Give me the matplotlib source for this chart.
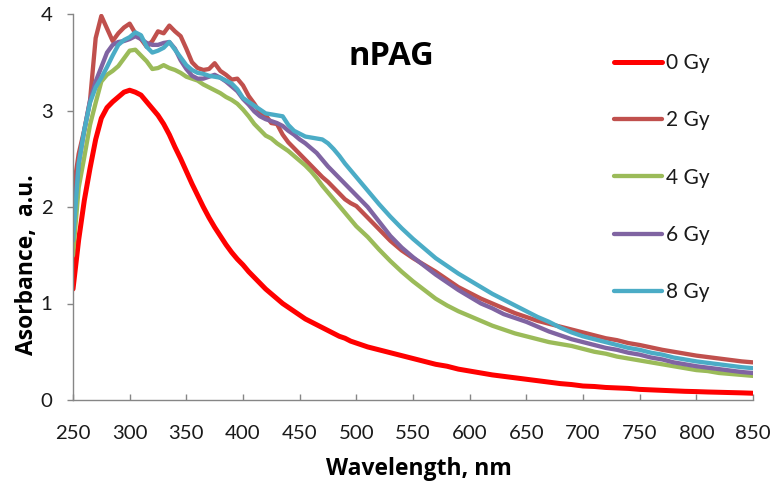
import numpy as np
import matplotlib
matplotlib.use("Agg")
import matplotlib.pyplot as plt

plt.rcParams['font.family'] = ['Lato', 'DejaVu Sans']

# wavelength grid (nm)
wl = np.concatenate([np.arange(250, 501, 5), np.arange(510, 851, 10)])

gy0 = [1.15, 1.66, 2.07, 2.40, 2.70, 2.92, 3.03, 3.09, 3.14, 3.19, 3.21, 3.19, 3.16, 3.09, 3.02, 2.95, 2.86,
       2.75, 2.62, 2.50, 2.37, 2.24, 2.12, 2.00, 1.89, 1.79, 1.70, 1.61, 1.53, 1.46, 1.40, 1.33, 1.27, 1.21,
       1.15, 1.10, 1.05, 1.00, 0.96, 0.92, 0.88, 0.84, 0.81, 0.78, 0.75, 0.72, 0.69, 0.66, 0.64, 0.61, 0.59,
       0.55, 0.52, 0.49, 0.46, 0.43, 0.40, 0.37, 0.35, 0.32, 0.30, 0.28, 0.26, 0.245, 0.23, 0.215, 0.20,
       0.185, 0.17, 0.16, 0.145, 0.14, 0.13, 0.125, 0.12, 0.11, 0.105, 0.10, 0.095, 0.09, 0.087, 0.083,
       0.08, 0.077, 0.074, 0.07]

gy2 = [2.15, 2.55, 2.80, 3.10, 3.75, 3.98, 3.85, 3.72, 3.80, 3.86, 3.90, 3.80, 3.74, 3.66, 3.72, 3.82, 3.80,
       3.88, 3.82, 3.77, 3.64, 3.50, 3.44, 3.42, 3.43, 3.49, 3.41, 3.37, 3.32, 3.33, 3.26, 3.15, 3.07, 2.98,
       2.95, 2.87, 2.86, 2.75, 2.67, 2.61, 2.55, 2.49, 2.43, 2.37, 2.31, 2.26, 2.20, 2.14, 2.08, 2.04, 2.01,
       1.89, 1.77, 1.65, 1.55, 1.47, 1.40, 1.33, 1.25, 1.17, 1.11, 1.05, 1.00, 0.95, 0.90, 0.86, 0.82,
       0.79, 0.76, 0.73, 0.70, 0.67, 0.64, 0.62, 0.59, 0.57, 0.545, 0.52, 0.50, 0.48, 0.46, 0.445,
       0.43, 0.415, 0.40, 0.39]

gy4 = [1.50, 2.20, 2.52, 2.85, 3.08, 3.30, 3.37, 3.41, 3.46, 3.54, 3.62, 3.63, 3.57, 3.51, 3.43, 3.44, 3.47,
       3.44, 3.42, 3.39, 3.35, 3.33, 3.31, 3.27, 3.24, 3.21, 3.18, 3.14, 3.11, 3.07, 3.01, 2.94, 2.86, 2.80,
       2.74, 2.71, 2.66, 2.62, 2.58, 2.53, 2.48, 2.43, 2.37, 2.30, 2.22, 2.15, 2.08, 2.01, 1.94, 1.87, 1.80,
       1.69, 1.56, 1.44, 1.33, 1.23, 1.14, 1.05, 0.98, 0.92, 0.87, 0.82, 0.77, 0.73, 0.69, 0.66, 0.63,
       0.60, 0.58, 0.56, 0.53, 0.50, 0.48, 0.45, 0.43, 0.41, 0.39, 0.37, 0.35, 0.33, 0.31, 0.30,
       0.28, 0.27, 0.26, 0.25]

gy6 = [1.80, 2.45, 2.80, 3.10, 3.30, 3.45, 3.60, 3.68, 3.71, 3.72, 3.74, 3.77, 3.74, 3.70, 3.68, 3.68, 3.70,
       3.71, 3.64, 3.52, 3.43, 3.36, 3.33, 3.33, 3.35, 3.37, 3.34, 3.30, 3.25, 3.20, 3.12, 3.06, 2.99, 2.94,
       2.91, 2.89, 2.87, 2.84, 2.79, 2.75, 2.70, 2.66, 2.61, 2.56, 2.49, 2.42, 2.36, 2.30, 2.24, 2.18, 2.12,
       2.00, 1.85, 1.70, 1.58, 1.48, 1.39, 1.30, 1.22, 1.14, 1.07, 1.00, 0.95, 0.89, 0.85, 0.81, 0.76,
       0.71, 0.67, 0.63, 0.60, 0.57, 0.54, 0.52, 0.49, 0.47, 0.44, 0.42, 0.39, 0.37, 0.35, 0.335,
       0.32, 0.305, 0.29, 0.28]

gy8 = [1.65, 2.45, 2.80, 3.08, 3.24, 3.34, 3.45, 3.57, 3.68, 3.73, 3.76, 3.81, 3.78, 3.66, 3.60, 3.62, 3.65,
       3.71, 3.63, 3.55, 3.47, 3.42, 3.39, 3.38, 3.36, 3.35, 3.34, 3.31, 3.28, 3.22, 3.13, 3.09, 3.05, 3.01,
       2.97, 2.96, 2.95, 2.94, 2.85, 2.79, 2.76, 2.73, 2.72, 2.71, 2.70, 2.66, 2.60, 2.53, 2.45, 2.38, 2.31,
       2.17, 2.03, 1.90, 1.78, 1.67, 1.57, 1.47, 1.39, 1.31, 1.24, 1.17, 1.10, 1.04, 0.98, 0.92, 0.86,
       0.81, 0.75, 0.70, 0.66, 0.63, 0.60, 0.57, 0.54, 0.52, 0.49, 0.47, 0.44, 0.42, 0.40, 0.385,
       0.37, 0.355, 0.34, 0.33]

labels = ['0 Gy', '2 Gy', '4 Gy', '6 Gy', '8 Gy']
series = [gy0, gy2, gy4, gy6, gy8]
colors = ['#FF0000', '#C0504D', '#9BBB59', '#8064A2', '#4BACC6']
widths = [3.6, 3.1, 3.1, 3.1, 3.1]

xticks = [250, 300, 350, 400, 450, 500, 550, 600, 650, 700, 750, 800, 850]
yticks = [0, 1, 2, 3, 4]

W, H = 773, 491
fig = plt.figure(figsize=(W / 100, H / 100), dpi=100)
ax = fig.add_axes([73 / W, 1 - 400 / H, (753 - 73) / W, (400 - 14) / H])

for y, c, lw, lab in zip(series, colors, widths, labels):
    ax.plot(wl, y, color=c, lw=lw, label=lab, solid_capstyle='round', solid_joinstyle='round')

ax.set_xlim(250, 850)
ax.set_ylim(0, 4)
ax.set_xticks(xticks)
ax.set_yticks(yticks)
ax.set_xticklabels([str(t) for t in xticks])
ax.set_yticklabels([str(t) for t in yticks])

gray = '#868686'
for s in ['top', 'right']:
    ax.spines[s].set_visible(False)
for s in ['left', 'bottom']:
    ax.spines[s].set_color(gray)
    ax.spines[s].set_linewidth(1.0)

ax.tick_params(axis='x', direction='in', length=4.3, width=1, color=gray, pad=18,
               labelsize=14.7, labelcolor='#1a1a1a')
ax.tick_params(axis='y', direction='out', length=4.3, width=1, color=gray, pad=10.5,
               labelsize=14.7, labelcolor='#1a1a1a')

bold = ['Open Sans', 'DejaVu Sans']
ax.set_xlabel('Wavelength, nm', fontsize=16.5, fontweight='bold', va='center', family=bold)
ax.xaxis.set_label_coords((419 - 73) / 680, -(469 - 400) / 386)
ax.set_ylabel('Asorbance,  a.u.', fontsize=16.5, fontweight='bold', va='center', family=bold)
ax.yaxis.set_label_coords((27 - 73) / 680, (400 - 265) / 386)

ax.text((391 - 73) / 680, (400 - 65) / 386, 'nPAG', transform=ax.transAxes,
        fontsize=23.5, fontweight='bold', ha='center', va='baseline', family=bold)

leg = ax.legend(loc='upper left', bbox_to_anchor=((614 - 73) / 680, (400 - 53) / 386),
                frameon=False, fontsize=15, handlelength=2.3, handletextpad=0.2,
                labelspacing=1.79, borderpad=0, borderaxespad=0)
for t in leg.get_texts():
    t.set_color('#1a1a1a')

fig.savefig('out.png', dpi=100)
